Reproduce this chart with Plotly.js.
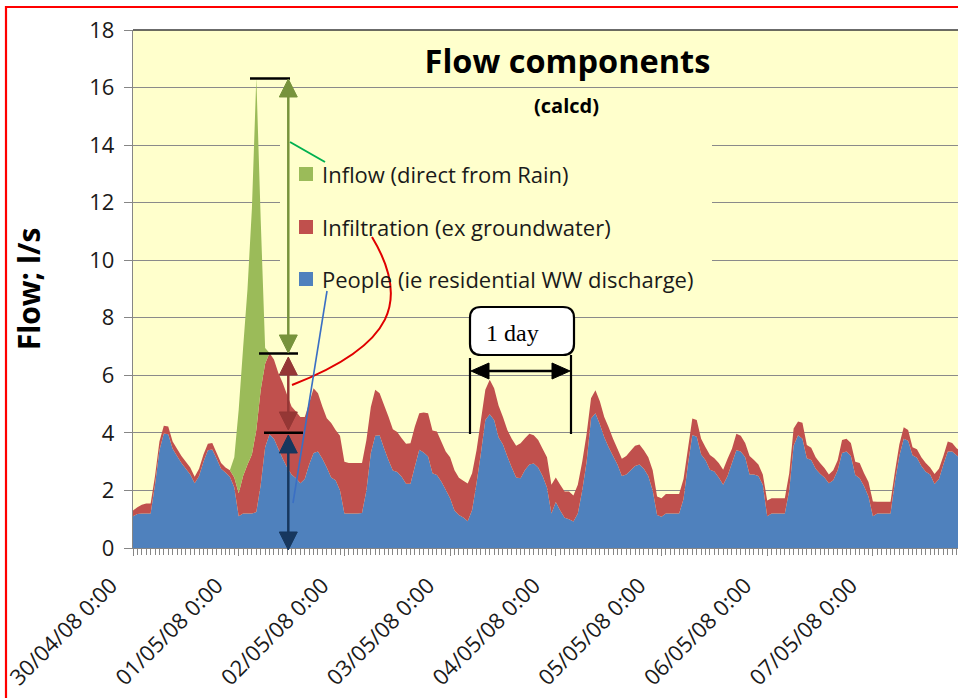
<!DOCTYPE html>
<html><head><meta charset="utf-8">
<script src="https://cdn.plot.ly/plotly-3.0.1.min.js"></script>
<style>html,body{margin:0;padding:0;background:#fff;overflow:hidden}#chart{width:958px;height:698px}</style>
</head><body><div id="chart"></div>
<script>
// ---------------- data ----------------
const startTime = Date.UTC(2008, 3, 30, 0, 0);   // 30/04/08 0:00, hourly series
const dayLabels = ['30/04/08 0:00','01/05/08 0:00','02/05/08 0:00','03/05/08 0:00',
                   '04/05/08 0:00','05/05/08 0:00','06/05/08 0:00','07/05/08 0:00'];
const seriesNames = ['People (ie residential WW discharge)','Infiltration (ex groundwater)','Inflow (direct from Rain)'];
const yTickVals = [0,2,4,6,8,10,12,14,16,18];

// People (residential wastewater), l/s, hourly
const people = [
 1.10,1.18,1.20,1.20,1.20,2.20,3.40,3.98,3.95,3.45,3.20,2.95,2.75,2.55,2.25,2.50,3.00,3.40,3.42,3.10,2.75,2.62,2.48,2.10,
 1.10,1.20,1.20,1.20,1.25,2.20,3.50,3.95,3.80,3.45,3.10,2.80,2.55,2.42,2.25,2.40,2.90,3.30,3.35,3.10,2.80,2.45,2.35,2.00,
 1.20,1.20,1.20,1.20,1.22,2.00,3.30,3.90,3.92,3.47,3.06,2.69,2.64,2.48,2.23,2.23,2.83,3.41,3.32,3.18,2.60,2.54,2.31,2.02,
 1.73,1.30,1.15,1.06,0.93,1.32,2.25,3.30,4.45,4.65,4.45,3.85,3.60,3.18,2.80,2.45,2.42,2.71,2.90,2.94,2.80,2.50,2.10,1.20,
 1.60,1.30,1.05,1.00,0.92,1.20,2.00,3.00,4.50,4.68,4.30,3.85,3.50,3.20,2.90,2.50,2.55,2.70,2.85,2.90,2.75,2.50,2.00,1.15,
 1.09,1.20,1.20,1.20,1.20,1.70,2.90,3.93,3.87,3.25,3.05,2.72,2.66,2.45,2.20,2.50,2.95,3.40,3.35,3.15,2.55,2.55,2.50,2.20,
 1.10,1.20,1.20,1.20,1.20,2.00,3.55,3.92,3.80,3.12,3.06,2.75,2.58,2.45,2.25,2.35,2.70,3.30,3.35,3.20,2.54,2.42,2.15,1.79,
 1.10,1.20,1.20,1.20,1.20,2.30,3.20,3.80,3.73,3.22,3.14,2.85,2.65,2.55,2.22,2.40,2.90,3.35,3.35,3.22,3.10
];
// Infiltration (groundwater), l/s, hourly
const infiltration = [
 0.20,0.24,0.30,0.35,0.35,0.30,0.30,0.27,0.27,0.25,0.25,0.25,0.25,0.25,0.23,0.25,0.25,0.22,0.23,0.20,0.20,0.18,0.22,0.35,
 0.80,1.30,1.70,2.05,2.85,3.30,2.90,2.83,2.75,2.63,2.63,2.52,2.37,2.32,2.30,2.15,2.13,2.25,2.03,1.82,1.71,1.89,1.75,1.90,
 1.80,1.75,1.75,1.75,1.73,1.75,1.60,1.60,1.46,1.50,1.51,1.44,1.39,1.33,1.39,1.41,1.39,1.27,1.39,1.50,1.48,1.51,1.39,1.33,
 1.42,1.40,1.29,1.28,1.31,1.28,1.15,1.15,1.05,1.20,1.10,1.10,0.95,0.92,1.00,1.10,1.22,1.10,1.07,0.98,0.95,0.95,1.05,1.00,
 0.85,0.90,0.91,0.96,0.90,1.00,1.00,0.97,0.70,0.80,0.80,0.70,0.70,0.60,0.55,0.60,0.65,0.68,0.70,0.70,0.65,0.65,0.70,0.64,
 0.64,0.68,0.68,0.68,0.68,0.70,0.55,0.57,0.58,0.55,0.45,0.51,0.46,0.50,0.52,0.60,0.50,0.57,0.55,0.50,0.65,0.51,0.40,0.35,
 0.55,0.53,0.53,0.53,0.53,0.60,0.60,0.48,0.55,0.46,0.42,0.40,0.37,0.33,0.30,0.35,0.35,0.45,0.45,0.45,0.46,0.53,0.45,0.50,
 0.52,0.41,0.41,0.41,0.41,0.35,0.40,0.40,0.37,0.28,0.29,0.30,0.30,0.25,0.35,0.35,0.30,0.35,0.30,0.25,0.25
];
// Inflow (direct from rain) only during the storm, l/s
const inflowHours = [22,23,24,25,26,27,28,29,30,31];
const inflow      = [0,0.70,2.90,4.45,6.10,8.55,12.25,5.90,0.55,0];

// ---------------- helpers ----------------
function hourToDate(h){ return new Date(startTime + h*3600000).toISOString().slice(0,19).replace('T',' '); }
const hours = people.map((_, i) => i);
const xTimes = hours.map(hourToDate);

// plot-area pixel frame (for decorations)
const L = 133, T = 30, W = 825, H = 518;
const px = x => (x - L) / W;
const py = y => (T + H - y) / H;
const P = (x, y) => px(x).toFixed(5) + ',' + py(y).toFixed(5);

const GREEN = '#9BBB59', RED = '#C0504D', BLUE = '#4F81BD';
const shapes = [];
const annotations = [];
function pathShape(d, opts){ shapes.push(Object.assign({type:'path', xref:'paper', yref:'paper', path:d, layer:'above'}, opts)); }
function seg(x0,y0,x1,y1,color,w){ pathShape('M'+P(x0,y0)+'L'+P(x1,y1), {line:{color:color,width:w}}); }
function tri(a,b,c,color){ pathShape('M'+P(a[0],a[1])+'L'+P(b[0],b[1])+'L'+P(c[0],c[1])+'Z', {fillcolor:color, line:{color:color,width:1}}); }
function vArrow(x, yTop, yBot, color){
  const hl = 18, hw = 9;
  seg(x, yTop+hl-2, x, yBot-hl+2, color, 2.5);
  tri([x,yTop],[x-hw,yTop+hl],[x+hw,yTop+hl],color);
  tri([x,yBot],[x-hw,yBot-hl],[x+hw,yBot-hl],color);
}
function hArrow(y, xL, xR, color){
  const hl = 18, hw = 8;
  seg(xL+hl-2, y, xR-hl+2, y, color, 2.5);
  tri([xL,y],[xL+hl,y-hw],[xL+hl,y+hw],color);
  tri([xR,y],[xR-hl,y-hw],[xR-hl,y+hw],color);
}

// legend background (hides gridlines behind the legend block)
pathShape('M'+P(280,133)+'L'+P(712,133)+'L'+P(712,301)+'L'+P(280,301)+'Z', {fillcolor:'#FFFFCC', line:{width:0}});
// dark top border of plot area
seg(133, 30, 960, 30, '#3a3a3a', 1.6);
// red outer frame
pathShape('M'+P(6,760)+'L'+P(6,7)+'L'+P(1000,7), {line:{color:'#FF0000', width:2.2}});

// custom legend
const legendColors = [GREEN, RED, BLUE];
const legendTexts = [seriesNames[2], seriesNames[1], seriesNames[0]];
const legendY = [174, 227, 279];
legendTexts.forEach((t, k) => {
  const cy = legendY[k];
  pathShape('M'+P(299,cy-7)+'L'+P(313,cy-7)+'L'+P(313,cy+7)+'L'+P(299,cy+7)+'Z', {fillcolor:legendColors[k], line:{width:0}});
  annotations.push({xref:'paper', yref:'paper', x:px(320), y:py(cy), xanchor:'left', yanchor:'middle',
    text:t, showarrow:false, font:{family:'Open Sans, sans-serif', size:22, color:'#1a1a1a'}});
});

// component bars / arrows
seg(250, 78.5, 290, 78.5, '#000', 2.5);
seg(259, 353.5, 298, 353.5, '#000', 2.5);
seg(264, 432.7, 303, 432.7, '#000', 2.5);
vArrow(288.3, 79, 353, '#77933C');
vArrow(288.3, 357, 430, '#953735');
vArrow(288.3, 435, 550, '#17375E');

// connectors from legend to arrows
seg(290, 142, 325, 162, '#00B050', 2);
pathShape('M'+P(372,237)+'C'+P(410,300)+' '+P(395,345)+' '+P(292,385), {line:{color:'#E00000', width:2}});
seg(327, 291, 293, 503, '#3A6FC4', 1.6);

// "1 day" marker
seg(470, 358, 470, 434, '#000', 2.2);
seg(571, 355, 571, 434, '#000', 2.2);
hArrow(371, 471, 570, '#000');
pathShape('M'+P(481,307)+'L'+P(563,307)+'Q'+P(574,307)+' '+P(574,318)+'L'+P(574,344)+'Q'+P(574,355)+' '+P(563,355)+
          'L'+P(481,355)+'Q'+P(470,355)+' '+P(470,344)+'L'+P(470,318)+'Q'+P(470,307)+' '+P(481,307)+'Z',
          {fillcolor:'#FFFFFF', line:{color:'#000', width:2.2}});
annotations.push({xref:'paper', yref:'paper', x:px(512), y:py(333), xanchor:'center', yanchor:'middle',
  text:'1 day', showarrow:false, font:{family:'Liberation Serif, serif', size:24, color:'#000'}});

// subtitle
annotations.push({xref:'paper', yref:'paper', x:px(566), y:py(105), xanchor:'center', yanchor:'middle',
  text:'<b>(calcd)</b>', showarrow:false, font:{family:'Open Sans, sans-serif', size:20, color:'#000'}});

// ---------------- traces ----------------
const traces = [
  {x:xTimes, y:people, name:seriesNames[0], stackgroup:'flow', mode:'none', fillcolor:BLUE, showlegend:false},
  {x:xTimes, y:infiltration, name:seriesNames[1], stackgroup:'flow', mode:'none', fillcolor:RED, showlegend:false},
  {x:inflowHours.map(hourToDate), y:inflow, name:seriesNames[2], stackgroup:'flow', mode:'none', fillcolor:GREEN, showlegend:false}
];

const layout = {
  width:958, height:698,
  margin:{l:L, r:0, t:T, b:698-T-H, pad:0},
  paper_bgcolor:'#FFFFFF', plot_bgcolor:'#FFFFCC',
  font:{family:'Open Sans, sans-serif', color:'#1a1a1a'},
  title:{text:'<b>Flow components</b>', xref:'container', yref:'container', x:567.5/958, y:1-62/698,
         xanchor:'center', yanchor:'middle', font:{family:'Open Sans, sans-serif', size:32.5, color:'#000'}},
  xaxis:{type:'date', range:[hourToDate(0), hourToDate((958-L)/(105.7/24))],
         tickmode:'array', tickvals:dayLabels.map((_, d) => hourToDate(24*d)), ticktext:dayLabels,
         tickangle:-45, tickfont:{size:22, color:'#1a1a1a'},
         ticklabelshift:-22, ticklabelstandoff:8,
         ticks:'outside', ticklen:7, tickcolor:'#868686',
         minor:{tick0:hourToDate(0), dtick:3600000, ticks:'outside', ticklen:6, tickcolor:'#868686', showgrid:false},
         showline:true, linecolor:'#868686', linewidth:1, showgrid:false, zeroline:false, fixedrange:true},
  yaxis:{range:[0,18], tickmode:'array', tickvals:yTickVals, tickfont:{size:22, color:'#1a1a1a'},
         ticklabelstandoff:5,
         ticks:'outside', ticklen:8, tickcolor:'#868686',
         showline:true, linecolor:'#868686', linewidth:1.2,
         showgrid:true, gridcolor:'#8a8a8a', gridwidth:1, zeroline:false,
         title:{text:'<b>Flow; l/s</b>', font:{size:30, color:'#000'}, standoff:39}},
  shapes:shapes, annotations:annotations, showlegend:false
};

Plotly.newPlot('chart', traces, layout, {displayModeBar:false, staticPlot:true});
</script></body></html>
